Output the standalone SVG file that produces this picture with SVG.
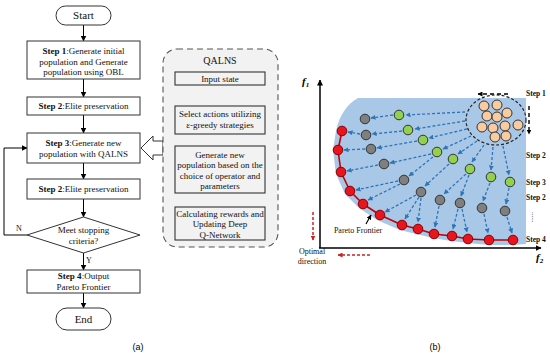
<svg xmlns="http://www.w3.org/2000/svg" width="550" height="353" viewBox="0 0 550 353">
<defs>
<marker id="ah" markerWidth="6" markerHeight="6" refX="5.5" refY="3" orient="auto" markerUnits="userSpaceOnUse"><path d="M0,0 L6,3 L0,6 Z" fill="#000"/></marker>
<marker id="ahb" markerWidth="5" markerHeight="5" refX="4.5" refY="2.5" orient="auto" markerUnits="userSpaceOnUse"><path d="M0,0 L5,2.5 L0,5 Z" fill="#2e75b6"/></marker>
<marker id="ahr" markerWidth="5" markerHeight="5" refX="4.5" refY="2.5" orient="auto" markerUnits="userSpaceOnUse"><path d="M0,0 L5,2.5 L0,5 Z" fill="#d02020"/></marker>
<marker id="ahk" markerWidth="5" markerHeight="5" refX="4.5" refY="2.5" orient="auto" markerUnits="userSpaceOnUse"><path d="M0,0 L5,2.5 L0,5 Z" fill="#000"/></marker>
</defs>
<style>
.t{font-family:"Liberation Serif","Times New Roman",serif;font-size:9px;fill:#111;text-anchor:middle}
.b{font-weight:bold}
.box{fill:#fff;stroke:#333;stroke-width:1}
.ibox{fill:#f2f2f2;stroke:#333;stroke-width:1.1}
.ln{stroke:#000;stroke-width:1;fill:none}
.ba{stroke:#2e75b6;stroke-width:1.3;stroke-dasharray:3 2;fill:none;marker-end:url(#ahb)}
.ra{stroke:#d02020;stroke-width:1.5;stroke-dasharray:3 2;fill:none;marker-end:url(#ahr)}
.ka{stroke:#000;stroke-width:1.4;stroke-dasharray:4 3;fill:none;marker-end:url(#ahk)}
.g{fill:#92d050;stroke:#333;stroke-width:1}
.k{fill:#7f7f7f;stroke:#333;stroke-width:1}
.r{fill:#e8141e;stroke:#8b0000;stroke-width:1}
.o{fill:#f8cba0;stroke:#333;stroke-width:1}
.s{font-family:"Liberation Serif","Times New Roman",serif;font-size:7.5px;font-weight:bold;fill:#111}
.sm{font-family:"Liberation Serif","Times New Roman",serif;font-size:8px;fill:#111}
</style>

<!-- (a) flowchart -->
<g id="connectors">
<line class="ln" x1="83.5" y1="25" x2="83.5" y2="41" marker-end="url(#ah)"/>
<line class="ln" x1="83.5" y1="79" x2="83.5" y2="97" marker-end="url(#ah)"/>
<line class="ln" x1="83.5" y1="115" x2="83.5" y2="133" marker-end="url(#ah)"/>
<line class="ln" x1="83.5" y1="163" x2="83.5" y2="179" marker-end="url(#ah)"/>
<line class="ln" x1="83.5" y1="199" x2="83.5" y2="217" marker-end="url(#ah)"/>
<line class="ln" x1="83.5" y1="253" x2="83.5" y2="270" marker-end="url(#ah)"/>
<line class="ln" x1="83.5" y1="293" x2="83.5" y2="308" marker-end="url(#ah)"/>
<polyline class="ln" points="27,235 4,235 4,148 27,148" marker-end="url(#ah)"/>
<text class="t" x="19" y="231" style="font-size:8px">N</text>
<text class="t" x="89" y="263" style="font-size:8px">Y</text>
<polygon points="141,148 153,136 153,141 163,141 163,155 153,155 153,160" fill="#fff" stroke="#333" stroke-width="1"/>
<line class="ln" x1="220" y1="85" x2="220" y2="106" marker-end="url(#ah)"/>
<line class="ln" x1="220" y1="134" x2="220" y2="146" marker-end="url(#ah)"/>
<line class="ln" x1="220" y1="193" x2="220" y2="207" marker-end="url(#ah)"/>
</g>

<g id="start">
<rect x="56" y="6" width="55" height="19" rx="9.5" class="box"/>
<text class="t" x="83.5" y="19" style="font-size:11px">Start</text>
</g>
<g id="step1">
<rect x="27" y="41" width="113" height="38" class="box"/>
<text class="t" x="83.5" y="54"><tspan class="b">Step 1</tspan>:Generate initial</text>
<text class="t" x="83.5" y="64.5">population and Generate</text>
<text class="t" x="83.5" y="75">population using OBL</text>
</g>
<g id="step2a">
<rect x="27" y="97" width="113" height="18" class="box"/>
<text class="t" x="83.5" y="109"><tspan class="b">Step 2</tspan>:Elite preservation</text>
</g>
<g id="step3">
<rect x="27" y="133" width="113" height="30" class="box"/>
<text class="t" x="83.5" y="146"><tspan class="b">Step 3</tspan>:Generate new</text>
<text class="t" x="83.5" y="156.5">population with QALNS</text>
</g>
<g id="step2b">
<rect x="27" y="179" width="113" height="20" class="box"/>
<text class="t" x="83.5" y="192"><tspan class="b">Step 2</tspan>:Elite preservation</text>
</g>
<g id="decision">
<polygon points="83.5,217 140,235 83.5,253 27,235" class="box"/>
<text class="t" x="83.5" y="233">Meet stopping</text>
<text class="t" x="83.5" y="244">criteria?</text>
</g>
<g id="step4">
<rect x="27" y="270" width="113" height="23" class="box"/>
<text class="t" x="83.5" y="279"><tspan class="b">Step 4</tspan>:Output</text>
<text class="t" x="83.5" y="290">Pareto Frontier</text>
</g>
<g id="end">
<rect x="56" y="308" width="55" height="22" rx="11" class="box"/>
<text class="t" x="83.5" y="323" style="font-size:11px">End</text>
</g>
<text x="138" y="350" style="font-family:'Liberation Sans',Arial,sans-serif;font-size:9px;text-anchor:middle">(a)</text>

<!-- QALNS -->
<g id="qalns">
<rect x="163" y="49" width="115" height="198" rx="14" fill="#f2f2f2" stroke="#555" stroke-width="1.1" stroke-dasharray="6 4"/>
<text class="t" x="220" y="64" style="font-size:10px">QALNS</text>
</g>
<g id="input">
<rect x="175" y="72" width="90" height="13" class="ibox"/>
<text class="t" x="220" y="81.5">Input state</text>
</g>
<g id="select">
<rect x="175" y="106" width="90" height="28" class="ibox"/>
<text class="t" x="220" y="117">Select actions utilizing</text>
<text class="t" x="220" y="128">ε-greedy strategies</text>
</g>
<g id="generate">
<rect x="175" y="146" width="90" height="47" class="ibox"/>
<text class="t" x="220" y="157.5">Generate new</text>
<text class="t" x="220" y="168">population based on the</text>
<text class="t" x="220" y="178.5">choice of operator and</text>
<text class="t" x="220" y="189">parameters</text>
</g>
<g id="calc">
<rect x="175" y="207" width="90" height="33" class="ibox"/>
<text class="t" x="220" y="216.5">Calculating rewards and</text>
<text class="t" x="220" y="227">Updating Deep</text>
<text class="t" x="220" y="237.5">Q-Network</text>
</g>

<!-- (b) plot -->
<path d="M358,98 L526,98 L526,244 L513,245 L489,245 L468,243 L451,241 L433,238 L416,234 L400,230 L377,220 L359,208 L345,194 L336,174 L333,150 L336,131 C339,116 347,104 358,98 Z" fill="#a9c8e8"/>
<line x1="320" y1="248" x2="320" y2="80" stroke="#000" stroke-width="1.5" marker-end="url(#ah)"/>
<line x1="319" y1="248" x2="541" y2="248" stroke="#000" stroke-width="1.5" marker-end="url(#ah)"/>
<text x="302" y="85" style="font-family:'Liberation Serif',serif;font-style:italic;font-weight:bold;font-size:11px">f<tspan font-size="7" dy="2">1</tspan></text>
<text x="536" y="261" style="font-family:'Liberation Serif',serif;font-style:italic;font-weight:bold;font-size:11px">f<tspan font-size="7" dy="2">2</tspan></text>

<g id="arrows-b">
<line class="ba" x1="465" y1="112" x2="406" y2="115"/>
<line class="ba" x1="465" y1="121" x2="415" y2="129"/>
<line class="ba" x1="467" y1="129" x2="429" y2="138"/>
<line class="ba" x1="471" y1="136" x2="443" y2="149"/>
<line class="ba" x1="477" y1="141" x2="458" y2="154"/>
<line class="ba" x1="484" y1="145" x2="472" y2="162"/>
<line class="ba" x1="493" y1="147" x2="491" y2="170"/>
<line class="ba" x1="503" y1="146" x2="509" y2="175"/>
<line class="ba" x1="393" y1="115" x2="371" y2="118"/>
<line class="ba" x1="402" y1="131" x2="372" y2="134"/>
<line class="ba" x1="417" y1="141" x2="377" y2="148"/>
<line class="ba" x1="431" y1="154" x2="390" y2="163"/>
<line class="ba" x1="433" y1="157" x2="409" y2="176"/>
<line class="ba" x1="449" y1="164" x2="425" y2="186"/>
<line class="ba" x1="466" y1="174" x2="444" y2="194"/>
<line class="ba" x1="469" y1="175" x2="461" y2="196"/>
<line class="ba" x1="490" y1="183" x2="483" y2="201"/>
<line class="ba" x1="509" y1="188" x2="506" y2="204"/>
<line class="ba" x1="360" y1="134" x2="348" y2="132"/>
<line class="ba" x1="365" y1="149" x2="344" y2="150"/>
<line class="ba" x1="378" y1="165" x2="347" y2="171"/>
<line class="ba" x1="398" y1="181" x2="356" y2="190"/>
<line class="ba" x1="400" y1="184" x2="368" y2="200"/>
<line class="ba" x1="416" y1="195" x2="385" y2="212"/>
<line class="ba" x1="419" y1="197" x2="405" y2="219"/>
<line class="ba" x1="421" y1="198" x2="418" y2="222"/>
<line class="ba" x1="439" y1="206" x2="435" y2="227"/>
<line class="ba" x1="458" y1="209" x2="453" y2="229"/>
<line class="ba" x1="462" y1="209" x2="467" y2="232"/>
<line class="ba" x1="484" y1="214" x2="488" y2="233"/>
<line class="ba" x1="507" y1="217" x2="512" y2="233"/>
</g>

<polyline points="342,131 338,150 341,172 350,191 363,204 380,215 402,225 418,229 434,234 452,236 468,239 489,240 513,240" fill="none" stroke="#c00000" stroke-width="1.6" stroke-linejoin="round"/>

<g id="dots">
<ellipse cx="496" cy="120" rx="30" ry="25" fill="none" stroke="#222" stroke-width="1.2" stroke-dasharray="3 2"/>
<circle class="o" cx="484" cy="106" r="5"/><circle class="o" cx="497" cy="105" r="5"/>
<circle class="o" cx="487" cy="116" r="5"/><circle class="o" cx="497" cy="117" r="5"/><circle class="o" cx="507" cy="113" r="5"/>
<circle class="o" cx="482" cy="127" r="5"/><circle class="o" cx="493" cy="128" r="5"/><circle class="o" cx="505" cy="126" r="5"/><circle class="o" cx="518" cy="125" r="5"/>
<circle class="o" cx="495" cy="137" r="5"/><circle class="o" cx="506" cy="136" r="5"/>
<circle class="g" cx="399" cy="115" r="4.8"/><circle class="g" cx="408" cy="130" r="4.8"/><circle class="g" cx="423" cy="140" r="4.8"/><circle class="g" cx="437" cy="152" r="4.8"/><circle class="g" cx="453" cy="159" r="4.8"/><circle class="g" cx="470" cy="169" r="4.8"/><circle class="g" cx="491" cy="177" r="4.8"/><circle class="g" cx="510" cy="182" r="4.8"/>
<circle class="k" cx="365" cy="119" r="4.8"/><circle class="k" cx="366" cy="135" r="4.8"/><circle class="k" cx="371" cy="149" r="4.8"/><circle class="k" cx="384" cy="164" r="4.8"/><circle class="k" cx="404" cy="180" r="4.8"/><circle class="k" cx="421" cy="192" r="4.8"/><circle class="k" cx="440" cy="200" r="4.8"/><circle class="k" cx="460" cy="203" r="4.8"/><circle class="k" cx="482" cy="208" r="4.8"/><circle class="k" cx="505" cy="211" r="4.8"/>
<circle class="r" cx="342" cy="131" r="4.8"/><circle class="r" cx="338" cy="150" r="4.8"/><circle class="r" cx="341" cy="172" r="4.8"/><circle class="r" cx="350" cy="191" r="4.8"/><circle class="r" cx="363" cy="204" r="4.8"/><circle class="r" cx="380" cy="215" r="4.8"/><circle class="r" cx="402" cy="225" r="4.8"/><circle class="r" cx="418" cy="229" r="4.8"/><circle class="r" cx="434" cy="234" r="4.8"/><circle class="r" cx="452" cy="236" r="4.8"/><circle class="r" cx="468" cy="239" r="4.8"/><circle class="r" cx="489" cy="240" r="4.8"/><circle class="r" cx="513" cy="240" r="4.8"/>
</g>

<line class="ka" x1="508" y1="94" x2="478" y2="94"/>
<line class="ka" x1="529" y1="106" x2="529" y2="134"/>
<text class="s" x="526" y="96">Step 1</text>
<text class="s" x="526" y="158">Step 2</text>
<text class="s" x="526" y="184.5">Step 3</text>
<text class="s" x="526" y="199.5">Step 2</text>
<text class="s" x="532" y="212" transform="rotate(90 532 212)" style="font-weight:normal;font-size:7px">......</text>
<text class="s" x="526" y="242">Step 4</text>

<line class="ra" x1="313" y1="212" x2="313" y2="240"/>
<line class="ra" x1="370" y1="255" x2="338" y2="255"/>
<text class="sm" x="312" y="254" text-anchor="middle">Optimal</text>
<text class="sm" x="312" y="264" text-anchor="middle">direction</text>
<line x1="366" y1="224" x2="371" y2="215" stroke="#000" stroke-width="1.2" marker-end="url(#ahk)"/>
<text class="sm" x="358" y="233" text-anchor="middle">Pareto Frontier</text>
<text x="435" y="350" style="font-family:'Liberation Sans',Arial,sans-serif;font-size:9px;text-anchor:middle">(b)</text>
</svg>
